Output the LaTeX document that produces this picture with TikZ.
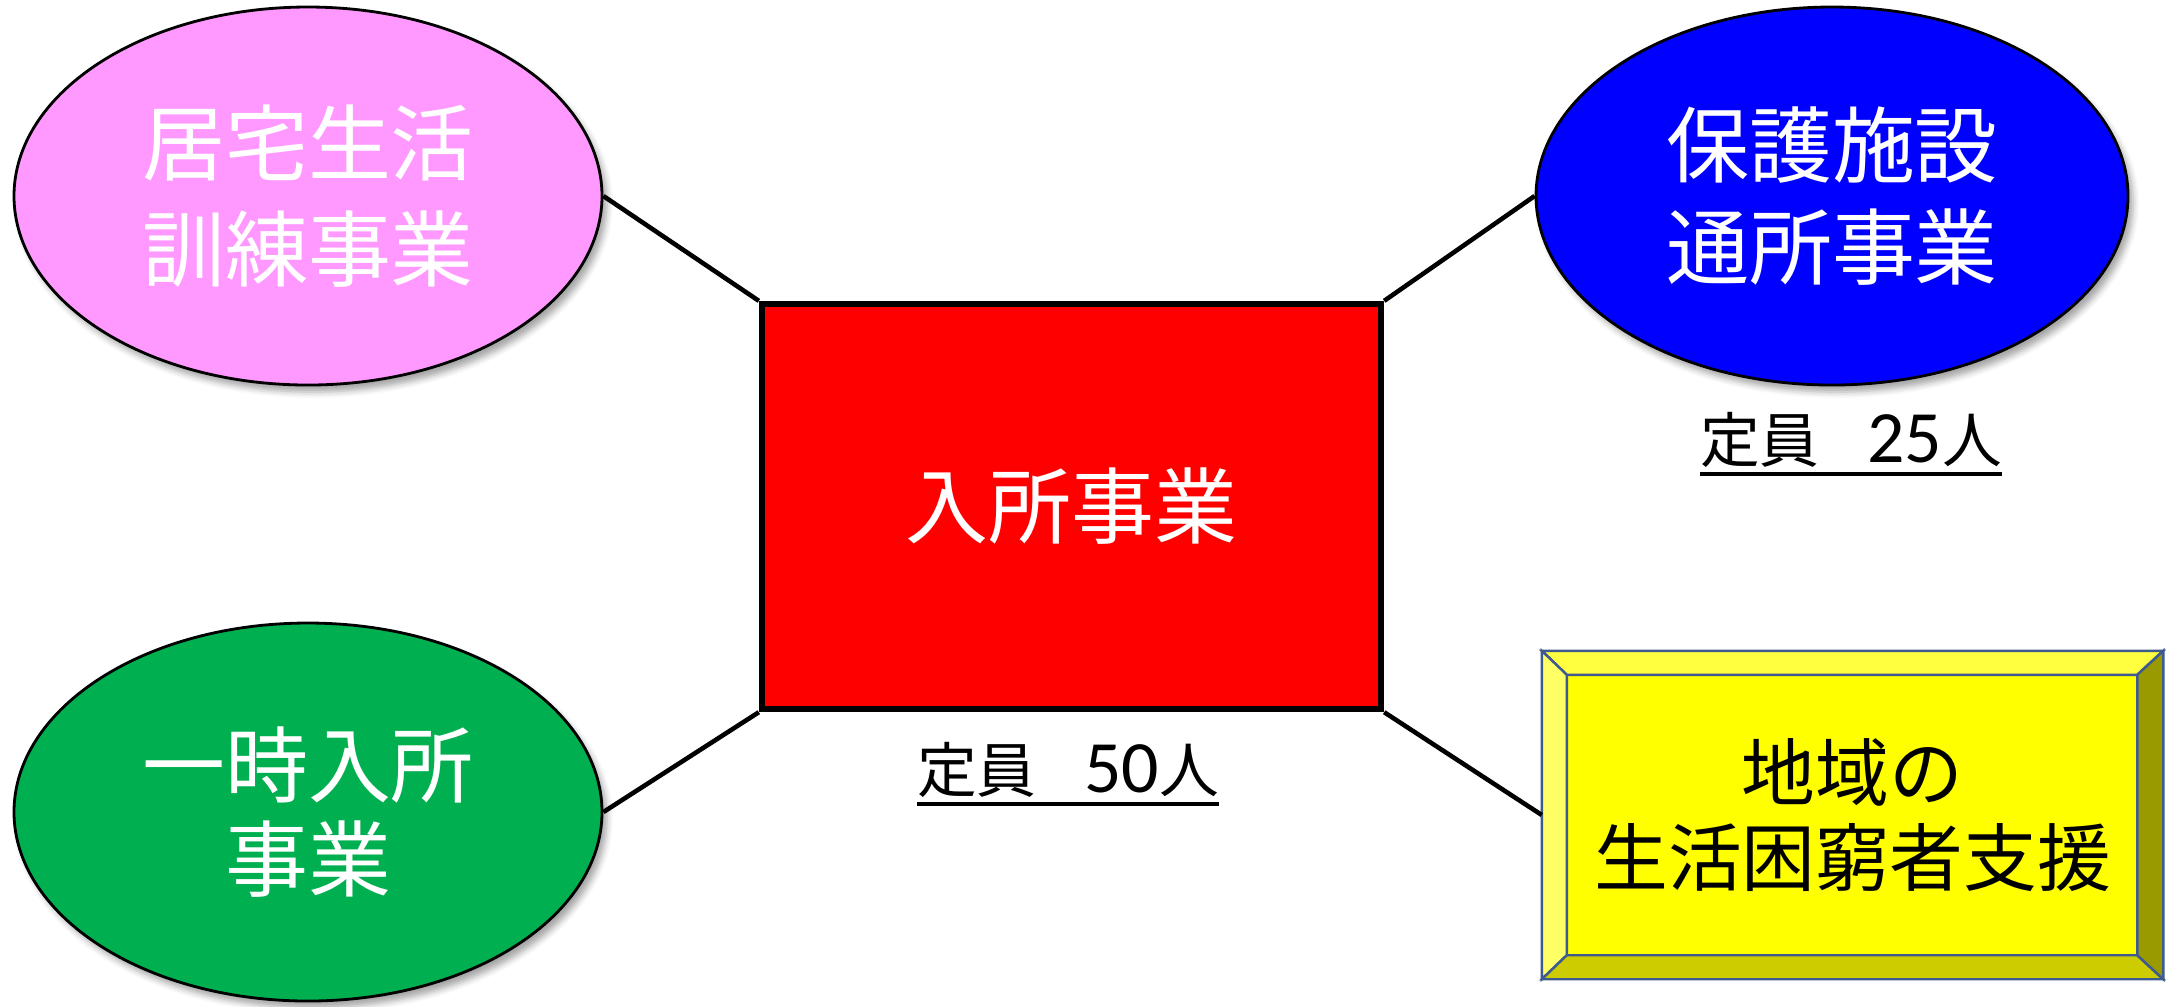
\documentclass[tikz,border=0pt]{standalone}
\usepackage{fontspec}
\setmainfont{Noto Sans CJK JP}
\newfontfamily\numfont{Carlito}
\usetikzlibrary{shapes.geometric,calc,shadows.blur}

\definecolor{pinkfill}{HTML}{FF99FF}
\definecolor{greenfill}{HTML}{00B050}
\definecolor{bluefill}{HTML}{0000FF}
\definecolor{redfill}{HTML}{FF0000}
\definecolor{yellowfill}{HTML}{FFFF00}
\definecolor{bevline}{HTML}{3F5A8E}
\definecolor{bevtop}{HTML}{FFFF40}
\definecolor{bevleft}{HTML}{FFFF66}
\definecolor{bevbottom}{HTML}{CCCC00}
\definecolor{bevright}{HTML}{999900}

\newcommand{\capnum}[1]{\kern-0.2em{\numfont\fontsize{21}{20}\selectfont #1}}
\newcommand{\capline}[1]{\setbox0\hbox{#1}\vtop{\copy0\kern1.2pt\hrule height 1.1pt width \wd0}}

\tikzset{
  jigyo/.style={ellipse, draw=black, line width=0.8pt, minimum width=5.88cm,
    minimum height=3.78cm, inner sep=0pt, text=white, align=center,
    blur shadow={shadow xshift=0.5mm, shadow yshift=-0.7mm,
      shadow blur radius=0.6mm, shadow opacity=35}},
  link/.style={line width=1.3pt},
  bevel/.style={draw=bevline, line width=0.7pt},
  teiin/.style={font=\fontsize{17}{20}\selectfont}
}

\begin{document}
\begin{tikzpicture}
\useasboundingbox (0,0) rectangle (21.66,-10.06);

% four projects round the centre
\node[jigyo, fill=pinkfill, font=\fontsize{23.6}{30}\selectfont] (kyotaku) at (3.08,-1.96) {居宅生活\\訓練事業};
\node[jigyo, fill=greenfill, font=\fontsize{23.6}{27}\selectfont] (ichiji) at (3.08,-8.12) {一時入所\\事業};
\node[jigyo, fill=bluefill, minimum width=5.92cm, font=\fontsize{23.6}{29}\selectfont] (tsusho) at (18.32,-1.96) {保護施設\\通所事業};

% centre box
\node[draw=black, line width=1.8pt, fill=redfill, minimum width=6.19cm, minimum height=4.05cm,
  text=white, font=\fontsize{23.6}{30}\selectfont] (nyusho) at (10.715,-5.065) {入所事業};

% bevelled box
\node[bevel, fill=yellowfill, minimum width=6.19cm, minimum height=3.26cm, align=center,
  font=\fontsize{21}{24}\selectfont] (shien) at (18.525,-8.15) {地域の\\生活困窮者支援};
\coordinate (sNW) at ($(shien.north west)+(0.25,-0.24)$);
\coordinate (sNE) at ($(shien.north east)+(-0.26,-0.24)$);
\coordinate (sSW) at ($(shien.south west)+(0.25,0.24)$);
\coordinate (sSE) at ($(shien.south east)+(-0.26,0.24)$);
\filldraw[bevel, fill=bevtop] (shien.north west) -- (shien.north east) -- (sNE) -- (sNW) -- cycle;
\filldraw[bevel, fill=bevleft] (shien.north west) -- (sNW) -- (sSW) -- (shien.south west) -- cycle;
\filldraw[bevel, fill=bevbottom] (shien.south west) -- (sSW) -- (sSE) -- (shien.south east) -- cycle;
\filldraw[bevel, fill=bevright] (shien.north east) -- (shien.south east) -- (sSE) -- (sNE) -- cycle;

% capacities
\node[teiin] (teiin50) at (10.68,-7.74) {\capline{定員　\capnum{50}人}};
\node[teiin] (teiin25) at (18.51,-4.44) {\capline{定員　\capnum{25}人}};

% connectors
\draw[link] (kyotaku.east) -- (nyusho.north west);
\draw[link] (ichiji.east) -- (nyusho.south west);
\draw[link] (tsusho.west) -- (nyusho.north east);
\draw[link] (shien.west) -- (nyusho.south east);

\end{tikzpicture}
\end{document}
